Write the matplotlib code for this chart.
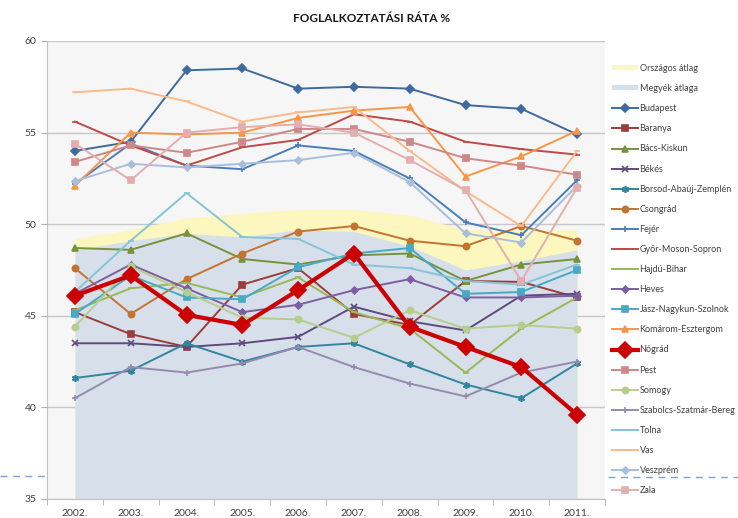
"""Foglalkoztatási ráta megyénként, 2002-2011."""

import matplotlib

matplotlib.use("Agg")
import matplotlib.pyplot as plt  # noqa: E402
from matplotlib.lines import Line2D  # noqa: E402
from matplotlib.patches import Patch  # noqa: E402
import numpy as np  # noqa: E402

plt.rcParams["font.family"] = ["Lato", "DejaVu Sans"]

years = ["2002.", "2003.", "2004.", "2005.", "2006.", "2007.", "2008.", "2009.", "2010.", "2011."]

orszagos = [49.2, 49.7, 50.35, 50.6, 50.8, 50.8, 50.5, 49.7, 49.7, 49.7]
megyek = [48.6, 49.1, 49.5, 49.3, 49.7, 49.6, 48.8, 47.5, 48.0, 48.6]

budapest = [54.0, 54.5, 58.4, 58.5, 57.4, 57.5, 57.4, 56.5, 56.3, 54.9]
baranya = [45.2, 44.0, 43.3, 46.7, 47.6, 45.1, 44.5, 46.9, 46.85, 46.0]
bacs = [48.7, 48.6, 49.5, 48.1, 47.8, 48.3, 48.4, 46.9, 47.8, 48.1]
bekes = [43.5, 43.5, 43.3, 43.5, 43.85, 45.5, 44.7, 44.2, 46.1, 46.2]
borsod = [41.6, 42.0, 43.5, 42.5, 43.3, 43.5, 42.35, 41.25, 40.5, 42.4]
csongrad = [47.6, 45.1, 47.0, 48.4, 49.6, 49.9, 49.1, 48.8, 49.9, 49.1]
fejer = [52.2, 54.4, 53.2, 53.0, 54.3, 54.0, 52.5, 50.1, 49.4, 52.4]
gyor = [55.6, 54.3, 53.2, 54.2, 54.6, 56.0, 55.6, 54.5, 54.1, 53.8]
hajdu = [45.3, 46.5, 46.8, 46.0, 47.1, 45.2, 44.3, 41.9, 44.3, 46.0]
heves = [46.2, 47.8, 46.5, 45.2, 45.6, 46.4, 47.0, 46.0, 46.0, 46.1]
jasz = [45.1, 47.2, 46.0, 45.9, 47.65, 48.4, 48.7, 46.2, 46.3, 47.5]
komarom = [52.1, 55.0, 54.9, 55.0, 55.8, 56.2, 56.4, 52.6, 53.7, 55.1]
nograd = [46.1, 47.2, 45.05, 44.5, 46.4, 48.4, 44.4, 43.3, 42.2, 39.6]
pest = [53.4, 54.3, 53.9, 54.5, 55.2, 55.2, 54.5, 53.6, 53.2, 52.7]
somogy = [44.4, 47.7, 46.3, 44.9, 44.8, 43.8, 45.3, 44.3, 44.5, 44.3]
szabolcs = [40.5, 42.2, 41.9, 42.4, 43.3, 42.2, 41.3, 40.6, 41.9, 42.5]
tolna = [46.3, 49.1, 51.7, 49.3, 49.2, 47.8, 47.6, 46.9, 46.7, 47.8]
vas = [57.2, 57.4, 56.7, 55.6, 56.1, 56.4, 54.0, 51.8, 49.9, 54.0]
veszprem = [52.35, 53.3, 53.1, 53.3, 53.5, 53.9, 52.3, 49.5, 49.0, 52.1]
zala = [54.4, 52.4, 55.0, 55.3, 55.45, 55.0, 53.5, 51.85, 46.9, 52.0]

# name, values, colour, marker, marker size, line width
counties = [
    ("Budapest", budapest, "#3e6aa0", "D", 4, 1.4),
    ("Baranya", baranya, "#9b3d3a", "s", 4, 1.4),
    ("Bács-Kiskun", bacs, "#76933c", "^", 4.5, 1.4),
    ("Békés", bekes, "#5f4a7b", "x", 4.5, 1.4),
    ("Borsod-Abaúj-Zemplén", borsod, "#31859c", (6, 2, 0), 5, 1.4),
    ("Csongrád", csongrad, "#c4742f", "o", 4.5, 1.4),
    ("Fejér", fejer, "#4a7ebb", "+", 5, 1.4),
    ("Győr-Moson-Sopron", gyor, "#be4b48", "_", 4, 1.4),
    ("Hajdú-Bihar", hajdu, "#98b954", "_", 4, 1.4),
    ("Heves", heves, "#7d5fa0", "D", 3.5, 1.4),
    ("Jász-Nagykun-Szolnok", jasz, "#46aac4", "s", 4.5, 1.4),
    ("Komárom-Esztergom", komarom, "#f79646", "^", 4.5, 1.4),
    ("Nógrád", nograd, "#cc0000", "D", 8, 3.0),
    ("Pest", pest, "#d08788", "s", 4, 1.4),
    ("Somogy", somogy, "#b5ce8d", "o", 4.5, 1.4),
    ("Szabolcs-Szatmár-Bereg", szabolcs, "#968aae", "+", 5, 1.4),
    ("Tolna", tolna, "#86c4d6", "_", 4, 1.4),
    ("Vas", vas, "#f9bb8c", "_", 4, 1.4),
    ("Veszprém", veszprem, "#a9bedd", "D", 3.5, 1.4),
    ("Zala", zala, "#e4aeae", "s", 5, 1.4),
]

fig = plt.figure(figsize=(7.38, 5.18), dpi=100)
ax = fig.add_axes([47 / 738, 19 / 518, 558 / 738, 458 / 518])
ax.set_facecolor("#f6f6f6")

x = np.arange(len(years))
ax.fill_between(x, 35, orszagos, color="#fbf7bf", linewidth=0, zorder=1)
ax.fill_between(x, 35, megyek, color="#d7dfeb", linewidth=0, zorder=1.5)

for name, values, color, marker, ms, lw in counties:
    ax.plot(x, values, color=color, marker=marker, markersize=ms, linewidth=lw,
            markeredgewidth=1.2, label=name, zorder=4 if name == "Nógrád" else 3)

ax.set_xlim(-0.5, len(years) - 0.5)
ax.set_ylim(35, 60)
ax.set_yticks([35, 40, 45, 50, 55, 60])
ax.set_xticks(x)
ax.set_xticklabels(years)
ax.set_xticks(np.arange(-0.5, len(years), 1.0), minor=True)
ax.tick_params(axis="x", which="major", length=0, labelsize=7.5, colors="#404040", pad=7)
ax.tick_params(axis="x", which="minor", length=4, color="#b0b0b0", direction="out")
ax.tick_params(axis="y", length=4, color="#b0b0b0", labelsize=7.5, labelcolor="#404040")
ax.grid(axis="y", color="#c8c8c8", linewidth=1.0, zorder=0)
ax.set_axisbelow(True)
for side in ["top", "right"]:
    ax.spines[side].set_visible(False)
for side in ["left", "bottom"]:
    ax.spines[side].set_color("#c0c0c0")

fig.text(372 / 738, 1 - 18 / 518, "FOGLALKOZTATÁSI RÁTA %", ha="center", va="center",
         fontsize=8.5, fontweight="bold", color="#1a1a1a")

handles = [Patch(facecolor="#fbf7bf", edgecolor="none", label="Országos átlag"),
           Patch(facecolor="#d7dfeb", edgecolor="none", label="Megyék átlaga")]
line_handles, line_labels = ax.get_legend_handles_labels()
leg = fig.legend(handles + line_handles, ["Országos átlag", "Megyék átlaga"] + line_labels,
                 loc="upper left", bbox_to_anchor=(612 / 738, 1 - 64 / 518),
                 frameon=False, fontsize=6.5, labelspacing=1.23, handlelength=2.9,
                 handletextpad=0.15, borderaxespad=0, borderpad=0, handleheight=0.5)
for text in leg.get_texts():
    text.set_color("#404040")

# dashed guide line of the original slide
for x0, x1, yy in [(0, 45, 476), (608, 738, 477)]:
    fig.add_artist(Line2D([x0 / 738, x1 / 738], [1 - yy / 518] * 2, color="#7fa3cf",
                          linewidth=1.0, linestyle=(0, (5, 4)), transform=fig.transFigure))

fig.savefig("out.png", dpi=100)
plt.close(fig)
